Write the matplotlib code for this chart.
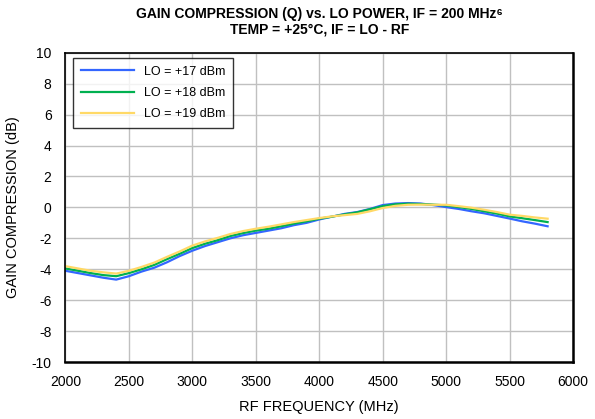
import numpy as np
import matplotlib
matplotlib.use('Agg')
import matplotlib.pyplot as plt

plt.rcParams['font.family'] = ['Liberation Sans', 'DejaVu Sans']
plt.rcParams['axes.unicode_minus'] = False

# data
freq = [2000, 2100, 2200, 2300, 2400, 2500, 2600, 2700, 2800, 2900,
        3000, 3100, 3200, 3300, 3400, 3500, 3600, 3700, 3800, 3900,
        4000, 4100, 4200, 4300, 4400, 4500, 4600, 4700, 4800, 4900,
        5000, 5100, 5200, 5300, 5400, 5500, 5600, 5700, 5800]
lo17 = [-4.1, -4.25, -4.4, -4.55, -4.67, -4.45, -4.15, -3.9, -3.55, -3.15,
        -2.8, -2.5, -2.25, -2.0, -1.8, -1.65, -1.5, -1.35, -1.15, -1.0,
        -0.78, -0.6, -0.42, -0.3, -0.1, 0.15, 0.25, 0.28, 0.25, 0.15,
        0.02, -0.1, -0.25, -0.38, -0.55, -0.72, -0.9, -1.05, -1.22]
lo18 = [-3.95, -4.1, -4.25, -4.38, -4.45, -4.25, -4.0, -3.72, -3.35, -3.0,
        -2.63, -2.35, -2.12, -1.85, -1.66, -1.5, -1.38, -1.22, -1.05, -0.9,
        -0.73, -0.6, -0.45, -0.32, -0.12, 0.08, 0.2, 0.24, 0.22, 0.18,
        0.13, 0.02, -0.1, -0.25, -0.4, -0.58, -0.7, -0.82, -0.95]
lo19 = [-3.8, -3.95, -4.1, -4.2, -4.28, -4.1, -3.85, -3.57, -3.2, -2.85,
        -2.47, -2.2, -1.97, -1.72, -1.53, -1.38, -1.25, -1.1, -0.95, -0.82,
        -0.69, -0.58, -0.5, -0.42, -0.25, -0.04, 0.1, 0.17, 0.18, 0.17,
        0.17, 0.08, -0.02, -0.15, -0.3, -0.47, -0.55, -0.65, -0.73]
labels = ['LO = +17 dBm', 'LO = +18 dBm', 'LO = +19 dBm']
colors = ['#3366FF', '#00B050', '#FFD966']

fig = plt.figure(figsize=(5.95, 4.19), dpi=100)
ax = fig.add_axes([0.110, 0.136, 0.853, 0.738])

for ys, lab, c in zip([lo17, lo18, lo19], labels, colors):
    ax.plot(freq, ys, color=c, lw=1.6, label=lab)

ax.set_xlim(2000, 6000)
ax.set_ylim(-10, 10)
ax.set_xticks(np.arange(2000, 6001, 500))
ax.set_yticks(np.arange(-10, 11, 2))
ax.grid(True, color='#C0C0C0', lw=1.0)
ax.set_axisbelow(True)
ax.tick_params(length=0, labelsize=10)
ax.tick_params(axis='x', pad=9)
ax.tick_params(axis='y', pad=10)
for s in ax.spines.values():
    s.set_color('black')
    s.set_linewidth(1.2)
ax.spines['right'].set_linewidth(1.8)
ax.spines['bottom'].set_linewidth(1.8)

ax.set_xlabel('RF FREQUENCY (MHz)', fontsize=10.5, labelpad=8)
ax.set_ylabel('GAIN COMPRESSION (dB)', fontsize=10.5, labelpad=8)
ax.set_title('GAIN COMPRESSION (Q) vs. LO POWER, IF = 200 MHz\u2076\n'
             'TEMP = +25°C, IF = LO - RF',
             fontsize=10, fontweight='bold', pad=14, linespacing=1.1)

leg = ax.legend(loc='upper left', bbox_to_anchor=(0.015, 0.983),
                fontsize=9, frameon=True, fancybox=False,
                edgecolor='black', handlelength=4.3, borderpad=0.6,
                labelspacing=0.75, borderaxespad=0)
leg.get_frame().set_linewidth(1.0)

fig.savefig('out.png', dpi=100)
